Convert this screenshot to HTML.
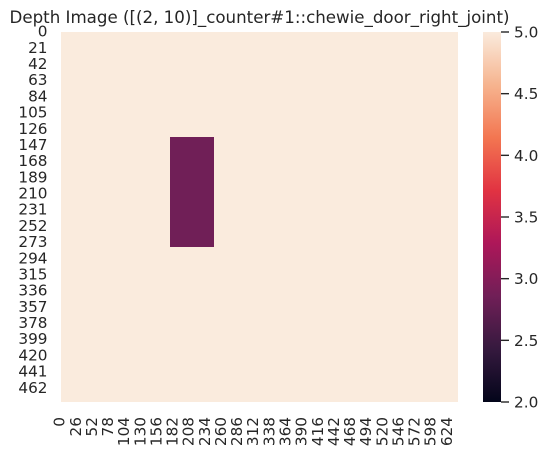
<!DOCTYPE html>
<html>
<head>
<meta charset="utf-8">
<style>
html,body{margin:0;padding:0;background:#fff;width:548px;height:454px;overflow:hidden}
svg{display:block}
text{font-family:"DejaVu Sans","Liberation Sans",sans-serif;fill:#262626}
</style>
</head>
<body>
<svg id="chart" xmlns="http://www.w3.org/2000/svg" width="548" height="454" viewBox="0 0 548 454">
<defs>
<linearGradient id="rocket-gradient" x1="0" y1="1" x2="0" y2="0"></linearGradient>
</defs>
<text x="259.5" y="23" text-anchor="middle" font-size="16.67">Depth Image ([(2, 10)]_counter#1::chewie_door_right_joint)</text>
<g id="cells"></g>
<g id="yticks"></g>
<g id="xticks"></g>
<rect x="483" y="32" width="18" height="370" fill="url(#rocket-gradient)"></rect>
<g id="cticks"></g>
</svg>
<script>
// Data
const imageWidth = 640;
const imageHeight = 480;
const colEdges = [0, 176, 247, 640];
const rowEdges = [0, 136, 279, 480];
const depthValues = [
  [5, 5, 5],
  [5, 2.86, 5],
  [5, 5, 5]
];
const xTickLabels = [0,26,52,78,104,130,156,182,208,234,260,286,312,338,364,390,416,442,468,494,520,546,572,598,624];
const yTickLabels = [0,21,42,63,84,105,126,147,168,189,210,231,252,273,294,315,336,357,378,399,420,441,462];
const colorbarTicks = [2.0,2.5,3.0,3.5,4.0,4.5,5.0];
const valueMin = 2;
const valueMax = 5;
const rocketStops = ['#03051a','#35193e','#701f57','#ad1759','#e13342','#f37651','#f6b48f','#faebdd'];

// Axis functions
const plotLeft = 61, plotRight = 458, plotTop = 32, plotBottom = 402;
const xScale = v => plotLeft + v / imageWidth * (plotRight - plotLeft);
const yScale = v => plotTop + v / imageHeight * (plotBottom - plotTop);
const cScale = v => plotBottom - (v - valueMin) / (valueMax - valueMin) * (plotBottom - plotTop);
const hexToRgb = h => [1, 3, 5].map(i => parseInt(h.substr(i, 2), 16));
function colorFor(v) {
  const t = Math.min(1, Math.max(0, (v - valueMin) / (valueMax - valueMin))) * (rocketStops.length - 1);
  const i = Math.min(rocketStops.length - 2, Math.floor(t));
  const a = hexToRgb(rocketStops[i]), b = hexToRgb(rocketStops[i + 1]);
  const c = a.map((x, k) => Math.round(x + (b[k] - x) * (t - i)));
  return 'rgb(' + c.join(',') + ')';
}

const NS = 'http://www.w3.org/2000/svg';
function make(tag, attrs, parent, content) {
  const el = document.createElementNS(NS, tag);
  for (const k in attrs) el.setAttribute(k, attrs[k]);
  if (content !== undefined) el.textContent = content;
  parent.appendChild(el);
  return el;
}

// Colorbar gradient
const grad = document.getElementById('rocket-gradient');
rocketStops.forEach((c, i) => {
  make('stop', { offset: i / (rocketStops.length - 1), 'stop-color': c }, grad);
});

// Heatmap cells
const cellsG = document.getElementById('cells');
depthValues.forEach((row, r) => {
  row.forEach((v, c) => {
    const x0 = xScale(colEdges[c]), x1 = xScale(colEdges[c + 1]);
    const y0 = yScale(rowEdges[r]), y1 = yScale(rowEdges[r + 1]);
    const cell = make('rect', { x: x0, y: y0, width: x1 - x0, height: y1 - y0, fill: colorFor(v), 'shape-rendering': 'crispEdges' }, cellsG);
    
    
  });
});

// Y tick labels
const yG = document.getElementById('yticks');
yTickLabels.forEach(v => {
  const t = make('text', { x: 47.5, y: yScale(v + 0.5) + 4.3, 'text-anchor': 'end', 'font-size': 15.28 }, yG, String(v));
  
  
});

// X tick labels
const xG = document.getElementById('xticks');
xTickLabels.forEach(v => {
  const px = xScale(v + 0.5) - 1.8, py = 417;
  const t = make('text', { x: 0, y: 0, 'text-anchor': 'end', 'font-size': 15.28, transform: 'translate(' + (px + 5.2) + ',' + py + ') rotate(-90)' }, xG, String(v));
  
  
});

// Colorbar ticks
const cG = document.getElementById('cticks');
colorbarTicks.forEach(v => {
  const y = cScale(v);
  const tick = make('line', { x1: 501, x2: 509, y1: y, y2: y, stroke: '#262626', 'stroke-width': 1.4 }, cG);
  
  
  const t = make('text', { x: 514, y: y + 5.5, 'font-size': 15.28 }, cG, v.toFixed(1));
  
  
});
</script>
</body>
</html>
